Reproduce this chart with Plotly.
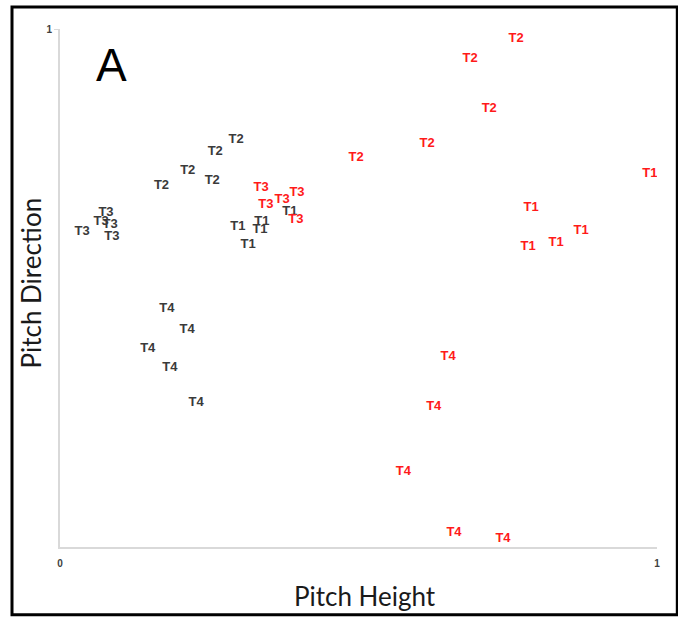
import plotly.graph_objects as go

# Pitch height / direction coordinates for each labelled point
black_T1_x = [0.298, 0.338, 0.335, 0.315, 0.385]
black_T1_y = [0.618, 0.627, 0.612, 0.583, 0.648]
black_T2_x = [0.295, 0.260, 0.214, 0.255, 0.170]
black_T2_y = [0.786, 0.764, 0.726, 0.707, 0.697]
black_T3_x = [0.037, 0.077, 0.069, 0.084, 0.087]
black_T3_y = [0.608, 0.645, 0.627, 0.622, 0.598]
black_T4_x = [0.179, 0.213, 0.147, 0.184, 0.228]
black_T4_y = [0.459, 0.419, 0.382, 0.347, 0.278]

red_T1_x = [0.988, 0.789, 0.784, 0.831, 0.873]
red_T1_y = [0.720, 0.654, 0.579, 0.587, 0.610]
red_T2_x = [0.764, 0.687, 0.719, 0.615, 0.496]
red_T2_y = [0.981, 0.942, 0.846, 0.778, 0.751]
red_T3_x = [0.337, 0.397, 0.372, 0.345, 0.395]
red_T3_y = [0.693, 0.683, 0.670, 0.660, 0.631]
red_T4_x = [0.650, 0.626, 0.575, 0.660, 0.742]
red_T4_y = [0.367, 0.270, 0.145, 0.027, 0.015]

black_groups = [("T1", black_T1_x, black_T1_y), ("T2", black_T2_x, black_T2_y),
                ("T3", black_T3_x, black_T3_y), ("T4", black_T4_x, black_T4_y)]
red_groups = [("T1", red_T1_x, red_T1_y), ("T2", red_T2_x, red_T2_y),
              ("T3", red_T3_x, red_T3_y), ("T4", red_T4_x, red_T4_y)]

fig = go.Figure()

for label, xs, ys in black_groups:
    fig.add_trace(go.Scatter(
        x=xs, y=ys, mode="text", text=[label] * len(xs),
        textposition="middle center",
        textfont=dict(family="Liberation Sans", size=13, color="#3a3a3a", weight="bold"),
        showlegend=False, hoverinfo="skip"))

for label, xs, ys in red_groups:
    fig.add_trace(go.Scatter(
        x=xs, y=ys, mode="text", text=[label] * len(xs),
        textposition="middle center",
        textfont=dict(family="Liberation Sans", size=13, color="#ff1a1a", weight="bold"),
        showlegend=False, hoverinfo="skip"))

axis_line = "#d9d9d9"
title_font = dict(family="Lato", size=26, color="#1a1a1a")

fig.update_layout(
    width=678, height=620,
    margin=dict(l=60, r=21, t=29, b=73),
    paper_bgcolor="white", plot_bgcolor="white",
    xaxis=dict(
        range=[0, 1], showgrid=False, zeroline=False,
        showline=True, linecolor=axis_line, linewidth=2,
        tickvals=[0, 1], ticktext=["0", "1"],
        ticks="inside", ticklen=6, tickcolor=axis_line, tickwidth=1,
        ticklabelstandoff=6,
        tickfont=dict(family="Liberation Sans", size=10, color="#404040", weight="bold"),
    ),
    yaxis=dict(
        range=[0, 1], showgrid=False, zeroline=False,
        showline=True, linecolor=axis_line, linewidth=2,
        tickvals=[1], ticktext=["1"],
        ticks="outside", ticklen=4, tickcolor=axis_line, tickwidth=1,
        tickfont=dict(family="Liberation Sans", size=10, color="#404040", weight="bold"),
    ),
    annotations=[
        dict(text="A", x=0.087, y=0.93, xref="paper", yref="paper",
             showarrow=False, xanchor="center", yanchor="middle",
             font=dict(family="Liberation Sans", size=46, color="black")),
        dict(text="Pitch Height", x=0.511, y=-0.094, xref="paper", yref="paper",
             showarrow=False, xanchor="center", yanchor="middle", font=title_font),
        dict(text="Pitch Direction", x=-0.049, y=0.51, xref="paper", yref="paper",
             showarrow=False, xanchor="center", yanchor="middle", textangle=-90,
             font=title_font),
    ],
    shapes=[dict(
        type="rect", xref="paper", yref="paper",
        x0=-0.0804, x1=1.034, y0=-0.131, y1=1.0425,
        line=dict(color="black", width=3), fillcolor="rgba(0,0,0,0)", layer="above",
    )],
)

fig.write_html("out.html")
